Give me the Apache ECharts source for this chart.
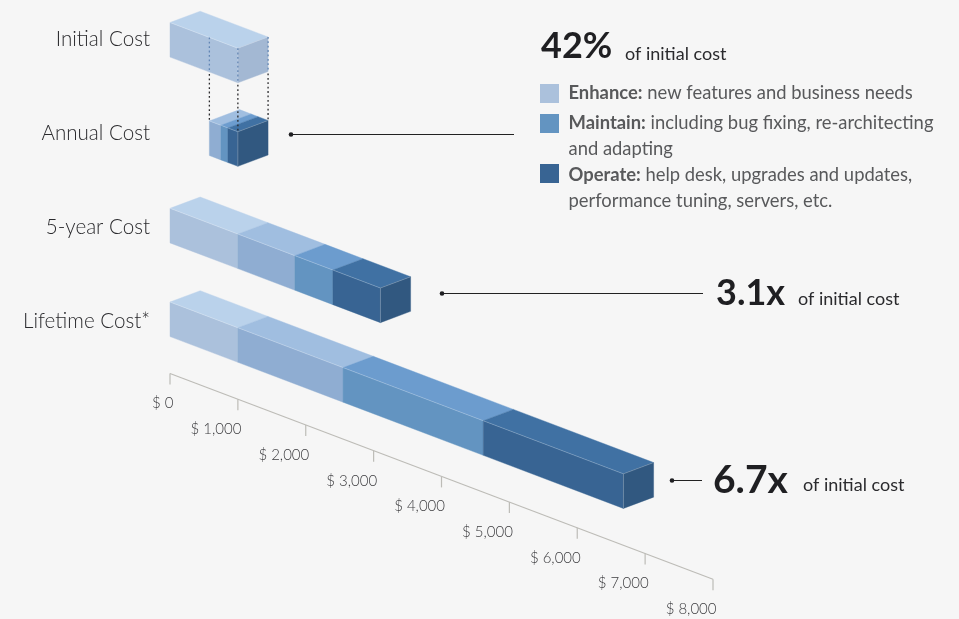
<!DOCTYPE html>
<html>
<head>
<meta charset="utf-8">
<style>html,body{margin:0;padding:0;background:#f6f6f6}#chart{width:959px;height:619px}</style>
<script src="https://cdn.jsdelivr.net/npm/echarts@6/dist/echarts.min.js"></script>
</head>
<body>
<div id="chart"></div>
<script>
// Software cost build-up, in dollars per row
const categories = ['Initial Cost', 'Annual Cost', '5-year Cost', 'Lifetime Cost*'];
const offsetCost = [0, 580, 0, 0];
const initialCost = [1000, 0, 1000, 1000];
const enhanceCost = [0, 170, 840, 1550];
const maintainCost = [0, 103, 560, 2065];
const operateCost = [0, 147, 700, 2065];
const axisTicks = [0, 1000, 2000, 3000, 4000, 5000, 6000, 7000, 8000];
const tickLabels = ['$ 0', '$ 1,000', '$ 2,000', '$ 3,000', '$ 4,000', '$ 5,000', '$ 6,000', '$ 7,000', '$ 8,000'];

// Projection of the bars and the slanted axis
const SLOPE = 0.379;
const DEPTH_X = 30.2, DEPTH_Y = -11.3, HEIGHT = 34.6;
const ROW_LIFT = [-16.5, -27, -18.7, -19];
const AXIS_LIFT = 373.5;

const FONT = 'Lato, "Open Sans", sans-serif';
const shades = [
  { front: '#abc1dc', top: '#bad2eb', right: '#a3b8d3' },
  { front: '#8fadd2', top: '#a0bee0', right: '#7f9dc2' },
  { front: '#6394c1', top: '#6c9cce', right: '#5483b0' },
  { front: '#386493', top: '#4071a3', right: '#315880' }
];

const stacks = [initialCost, enhanceCost, maintainCost, operateCost];
const rowTotals = categories.map((_, i) => offsetCost[i] + stacks.reduce((s, a) => s + a[i], 0));

function stackData(level) {
  return categories.map((_, row) => {
    let start = offsetCost[row];
    for (let k = 0; k < level; k++) start += stacks[k][row];
    return [start, start + stacks[level][row], row];
  });
}

function frontTop(api, value, row) {
  const p = api.coord([value, row]);
  const origin = api.coord([0, row]);
  return [p[0], p[1] + ROW_LIFT[row] + (p[0] - origin[0]) * SLOPE];
}

function poly(points, fill) {
  return { type: 'polygon', shape: { points }, style: { fill, stroke: fill, lineWidth: 0.4 } };
}

function edge(a, b) {
  return {
    type: 'line',
    shape: { x1: a[0], y1: a[1], x2: b[0], y2: b[1] },
    style: { stroke: 'rgba(255,255,255,0.28)', lineWidth: 0.8 }
  };
}

function barRenderer(level) {
  return function (params, api) {
    const start = api.value(0), end = api.value(1), row = api.value(2);
    if (end <= start) return { type: 'group', children: [] };
    const shade = shades[level];
    const a = frontTop(api, start, row);
    const b = frontTop(api, end, row);
    const up = p => [p[0] + DEPTH_X, p[1] + DEPTH_Y];
    const down = p => [p[0], p[1] + HEIGHT];
    const children = [
      poly([a, b, down(b), down(a)], shade.front),
      poly([a, b, up(b), up(a)], shade.top),
      edge(a, b)
    ];
    if (end === rowTotals[row]) {
      children.push(poly([b, up(b), down(up(b)), down(b)], shade.right));
      children.push(edge(b, down(b)));
      children.push(edge(b, up(b)));
    }
    return { type: 'group', children };
  };
}

const barSeries = stacks.map((_, level) => ({
  type: 'custom',
  name: ['Initial', 'Enhance', 'Maintain', 'Operate'][level],
  renderItem: barRenderer(level),
  data: stackData(level),
  encode: { x: [0, 1], y: 2 },
  z: 2 + level,
  silent: true
}));

// Dotted guides dropping from the initial bar onto the annual bar
const guideData = [[offsetCost[1], 0], [rowTotals[1], 0], [rowTotals[1], 1]];
const guideSeries = {
  type: 'custom',
  renderItem(params, api) {
    const value = api.value(0), back = api.value(1);
    const shift = back ? DEPTH_Y : 0;
    const top = frontTop(api, value, 0);
    const low = frontTop(api, value, 1);
    const x = top[0] + (back ? DEPTH_X : 0);
    const y1 = top[1] + shift, y2 = y1 + HEIGHT, y3 = low[1] + shift;
    const dotted = (from, to, stroke) => ({
      type: 'line',
      shape: { x1: x, y1: from, x2: x, y2: to },
      style: { stroke, lineWidth: 1.3, lineDash: [1.8, 2.6] }
    });
    return {
      type: 'group',
      children: [dotted(y1, y2, '#6286b4'), dotted(y2 + 2, y3, '#2a2a2d')]
    };
  },
  data: guideData,
  encode: { x: 0 },
  z: 8,
  silent: true
};

// Slanted value axis: the baseline, its ticks and its labels
const axisLineSeries = {
  type: 'custom',
  renderItem(params, api) {
    const a = api.coord([axisTicks[0], 0])[0];
    const b = api.coord([axisTicks[axisTicks.length - 1], 0])[0];
    return {
      type: 'line',
      shape: { x1: a, y1: AXIS_LIFT, x2: b, y2: AXIS_LIFT + (b - a) * SLOPE },
      style: { stroke: '#bdbcb7', lineWidth: 1.2 }
    };
  },
  data: [[0]],
  encode: { x: 0 },
  silent: true
};
const axisTickSeries = {
  type: 'custom',
  renderItem(params, api) {
    const x = api.coord([api.value(0), 0])[0];
    const x0 = api.coord([0, 0])[0];
    const y = AXIS_LIFT + (x - x0) * SLOPE;
    return {
      type: 'group',
      children: [
        {
          type: 'line',
          shape: { x1: x, y1: y, x2: x, y2: y + 11 },
          style: { stroke: '#bdbcb7', lineWidth: 1.2 }
        },
        {
          type: 'text',
          style: {
            x: x + 3.5, y: y + 30,
            text: tickLabels[params.dataIndex],
            fill: '#3c3c3f',
            font: '300 15px ' + FONT,
            textAlign: 'right',
            textVerticalAlign: 'middle'
          }
        }
      ]
    };
  },
  data: axisTicks.map(v => [v]),
  encode: { x: 0 },
  silent: true
};

// Callouts and the legend block
function label(x, y, text, size, weight, fill) {
  return {
    type: 'text', x, y, silent: true,
    style: {
      text, fill,
      font: weight + ' ' + size + 'px ' + FONT,
      textVerticalAlign: 'middle'
    }
  };
}
function leader(x1, x2, y) {
  return [
    { type: 'line', silent: true, shape: { x1, y1: y + 0.5, x2, y2: y + 0.5 }, style: { stroke: '#222222', lineWidth: 1 } },
    { type: 'circle', silent: true, shape: { cx: x1, cy: y + 0.5, r: 2.3 }, style: { fill: '#1f1f22' } }
  ];
}
function swatch(y, fill) {
  return { type: 'rect', silent: true, shape: { x: 540, y, width: 19, height: 19 }, style: { fill } };
}
function legendLine(y, strong, rest) {
  return {
    type: 'text', x: 568.5, y, silent: true,
    style: {
      text: (strong ? '{b|' + strong + '}' : '') + '{n|' + rest + '}',
      textVerticalAlign: 'middle',
      rich: {
        b: { font: '700 18.4px ' + FONT, fill: '#58595b' },
        n: { font: '400 18.4px ' + FONT, fill: '#58595b' }
      }
    }
  };
}
const graphics = [
  label(541, 46, '42%', 36, 700, '#1f1f22'),
  label(625, 54, 'of initial cost', 18, 400, '#2a2a2d'),
  label(716, 293, '3.1x', 36, 700, '#1f1f22'),
  label(798, 299, 'of initial cost', 18, 400, '#2a2a2d'),
  label(713, 480, '6.7x', 39, 700, '#1f1f22'),
  label(803, 485, 'of initial cost', 18, 400, '#2a2a2d'),
  ...leader(291, 514, 134),
  ...leader(442, 703, 293),
  ...leader(672, 702, 480),
  swatch(84, '#abc1dc'),
  swatch(114, '#6394c1'),
  swatch(164, '#386493'),
  legendLine(93, 'Enhance:', ' new features and business needs'),
  legendLine(123, 'Maintain:', ' including bug fixing, re-architecting'),
  legendLine(149, '', 'and adapting'),
  legendLine(175, 'Operate:', ' help desk, upgrades and updates,'),
  legendLine(201, '', 'performance tuning, servers, etc.')
];

const chart = echarts.init(document.getElementById('chart'), null, { renderer: 'canvas' });
chart.setOption({
  animation: false,
  backgroundColor: '#f6f6f6',
  grid: { left: 170, width: 543, top: -8, height: 376, outerBoundsMode: 'none' },
  xAxis: { type: 'value', min: 0, max: 8000, interval: 1000, show: false },
  yAxis: {
    type: 'category',
    data: categories,
    inverse: true,
    axisLine: { show: false },
    axisTick: { show: false },
    splitLine: { show: false },
    axisLabel: {
      margin: 20,
      color: '#2a2a2d',
      fontFamily: FONT,
      fontWeight: 300,
      fontSize: 20.6
    }
  },
  graphic: graphics,
  series: [axisLineSeries, axisTickSeries, ...barSeries, guideSeries]
});
</script>
</body>
</html>
